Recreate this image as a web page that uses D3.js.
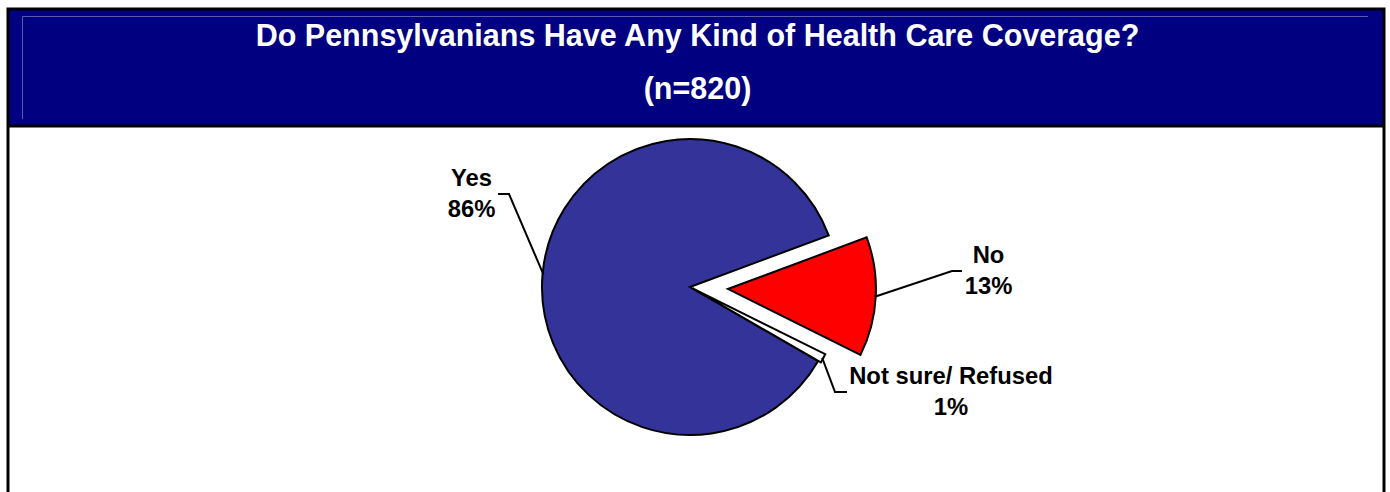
<!DOCTYPE html>
<html>
<head>
<meta charset="utf-8">
<script src="https://cdn.jsdelivr.net/npm/d3@7"></script>
<style>
  html, body { margin: 0; padding: 0; background: #fff; }
  svg { display: block; }
  text { font-family: Arial, "Liberation Sans", sans-serif; font-weight: bold; }
</style>
</head>
<body>
<svg id="chart" width="1390" height="492"></svg>
<script>
// ---- data ----
const titleLines = ["Do Pennsylvanians Have Any Kind of Health Care Coverage?", "(n=820)"];
const categories = ["Yes", "No", "Not sure/ Refused"];
const values = [86, 13, 1];
const colors = ["#333399", "#FF0000", "#FFFFFF"];

// ---- layout ----
const W = 1390, H = 492;
const cx = 690, cy = 287, R = 148;
const explode = [0, 38, 3];
// leader elbow / label layout (pixel layout, per slice)
const labelLayout = [
  { elbow: [509, 194], end: [498, 194], tx: 471.5, ty: 186 },
  { elbow: [952, 271], end: [962, 271], tx: 988.5, ty: 263 },
  { elbow: [835, 392], end: [847, 392], tx: 951, ty: 384 }
];

const svg = d3.select("#chart");
svg.append("rect").attr("width", W).attr("height", H).attr("fill", "#fff");

// banner
svg.append("rect").attr("x", 8).attr("y", 9).attr("width", 1376).attr("height", 117)
  .attr("fill", "#000080");
svg.append("path").attr("d", "M22.5,119 V16.5 H1368")
  .attr("fill", "none").attr("stroke", "#5a5aa8").attr("stroke-width", 1);
// outer frame
svg.append("path").attr("d", "M8,500 V9 H1384 V500")
  .attr("fill", "none").attr("stroke", "#000").attr("stroke-width", 3);
svg.append("line").attr("x1", 8).attr("x2", 1384).attr("y1", 126).attr("y2", 126)
  .attr("stroke", "#000").attr("stroke-width", 3);

const title = svg.append("g");
title.append("text").attr("x", 697.5).attr("y", 45.5).attr("text-anchor", "middle")
  .attr("fill", "#fff").style("font-size", "30.5px").text(titleLines[0]);
title.append("text").attr("x", 697.5).attr("y", 98.5).attr("text-anchor", "middle")
  .attr("fill", "#fff").style("font-size", "30.5px").text(titleLines[1]);

// pie
const start = 120 * Math.PI / 180;
const pie = d3.pie().value(d => d).sort(null).startAngle(start).endAngle(start + 2 * Math.PI);
const arcs = pie(values);
const arc = d3.arc().innerRadius(0).outerRadius(R);

const g = svg.append("g").attr("transform", `translate(${cx},${cy})`);
arcs.forEach((a, i) => {
  const mid = (a.startAngle + a.endAngle) / 2;
  const ox = Math.sin(mid) * explode[i], oy = -Math.cos(mid) * explode[i];
  g.append("path").attr("d", arc(a))
    .attr("transform", `translate(${ox},${oy})`)
    .attr("fill", colors[i]).attr("stroke", "#000").attr("stroke-width", 2)
    .attr("stroke-linejoin", "miter");
  // leader start on slice edge
  const sx = cx + ox + Math.sin(mid) * (R - 1), sy = cy + oy - Math.cos(mid) * (R - 1);
  const L = labelLayout[i];
  svg.append("polyline")
    .attr("points", [[sx, sy], L.elbow, L.end].map(p => p.join(",")).join(" "))
    .attr("fill", "none").attr("stroke", "#000").attr("stroke-width", 2);
  const t = svg.append("text").attr("text-anchor", "middle").style("font-size", "23.8px").attr("fill", "#000");
  t.append("tspan").attr("x", L.tx).attr("y", L.ty).text(categories[i]);
  t.append("tspan").attr("x", L.tx).attr("y", L.ty + 31).text(values[i] + "%");
});
</script>
</body>
</html>
